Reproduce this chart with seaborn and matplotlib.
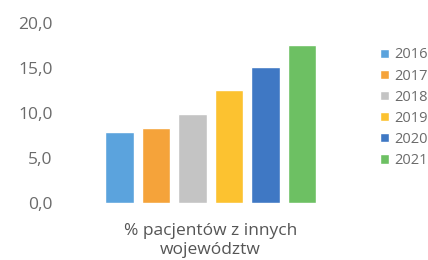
import matplotlib
matplotlib.use("Agg")
import matplotlib.pyplot as plt
import pandas as pd
import seaborn as sns

# dane
lata = ["2016", "2017", "2018", "2019", "2020", "2021"]
wartosci = [7.9, 8.3, 9.9, 12.6, 15.1, 17.6]
kategoria = "% pacjentów z innych\nwojewództw"
kolory = ["#5ba3dd", "#f5a33a", "#c4c4c4", "#fcc230", "#3f78c4", "#6dc063"]
yticki = [0, 5, 10, 15, 20]

sns.set_style("white")
plt.rcParams["font.family"] = ["Open Sans", "DejaVu Sans"]

df = pd.DataFrame({"kat": [kategoria] * len(lata), "rok": lata, "wartosc": wartosci})

fig = plt.figure(figsize=(4.28, 2.6), dpi=100)
ax = fig.add_axes([0.172, 0.219, 0.64, 0.693])

sns.barplot(data=df, x="kat", y="wartosc", hue="rok", palette=kolory,
            width=0.8, gap=0.22, saturation=1, ax=ax, legend=True)

ax.set_ylim(0, 20)
ax.set_xlim(-0.5, 0.5)
ax.set_yticks(yticki)
ax.set_yticklabels([f"{v:.1f}".replace(".", ",") for v in yticki])
ax.set_xlabel("")
ax.set_ylabel("")
for s in ax.spines.values():
    s.set_visible(False)
ax.tick_params(axis="y", length=0, pad=15, labelsize=12.5, labelcolor="#6b6b6b")
ax.tick_params(axis="x", length=0, pad=14, labelsize=12.5, labelcolor="#555555")
for lbl in ax.get_xticklabels():
    lbl.set_linespacing(1.25)

handles, labels = ax.get_legend_handles_labels()
ax.get_legend().remove()
leg = fig.legend(handles, labels, loc="upper left", bbox_to_anchor=(0.874, 0.84),
                 frameon=False, fontsize=10.5, handlelength=0.6, handleheight=0.6,
                 handletextpad=0.35, labelspacing=0.42, borderaxespad=0)
for t in leg.get_texts():
    t.set_color("#6b6b6b")

fig.savefig("out.png", dpi=100)
